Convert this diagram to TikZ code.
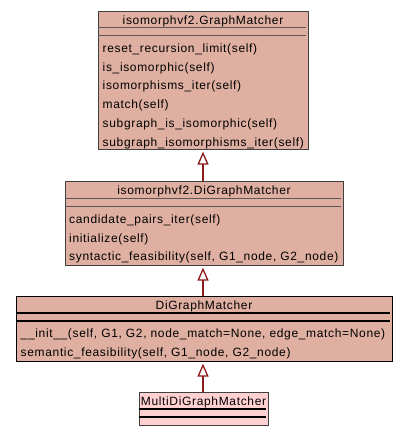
\documentclass[tikz,border=0pt]{standalone}
\usepackage{fontspec}
\setmainfont{Liberation Sans}[LetterSpace=5.5]
\usetikzlibrary{arrows.meta}

\definecolor{boxfill}{RGB}{223,176,161}
\definecolor{leaffill}{RGB}{255,208,208}
\definecolor{boxline}{RGB}{64,64,64}
\definecolor{arrowred}{RGB}{139,26,26}

\begin{document}
\begin{tikzpicture}[x=1pt,y=-1pt,font=\fontsize{12}{14}\selectfont,shorten >=2pt]
      \tikzstyle{klass}=[draw=boxline,fill=boxfill,line width=0.6pt,inner sep=0pt,anchor=north]
      \tikzstyle{cname}=[inner sep=0pt,text height=8.6pt,text depth=0pt]
      \tikzstyle{method}=[cname,anchor=west]
      \tikzstyle{sep}=[draw=black!65,line width=0.6pt]
      \tikzstyle{thicksep}=[draw=black,line width=1.1pt]
      \tikzstyle{inherit}=[draw=arrowred,line width=2pt,-{Triangle[open,width=11pt,length=13pt,line width=1.3pt,fill=white]}]

      \useasboundingbox (0,0) rectangle (408,437);

      % isomorphvf2.GraphMatcher
      \node[klass,minimum width=210pt,minimum height=138pt] (gm) at (203,11) {};
      \node[cname] (gm-name) at (203,20.5) {isomorphvf2.GraphMatcher};
      \draw[sep] ([yshift=-16pt]gm.north west) -- ([yshift=-16pt]gm.north east);
      \draw[sep] ([yshift=-24pt]gm.north west) -- ([yshift=-24pt]gm.north east);
      \foreach \m [count=\i from 0] in {reset\_recursion\_limit(self),
          is\_isomorphic(self), isomorphisms\_iter(self), match(self),
          subgraph\_is\_isomorphic(self), subgraph\_isomorphisms\_iter(self)}
        \node[method] (gm-m\i) at (102.5,48+18.8*\i) {\m};

      % isomorphvf2.DiGraphMatcher
      \node[klass,minimum width=278pt,minimum height=84pt] (dgm) at (204,181) {};
      \node[cname] (dgm-name) at (204,190.5) {isomorphvf2.DiGraphMatcher};
      \draw[sep] ([yshift=-17pt]dgm.north west) -- ([yshift=-17pt]dgm.north east);
      \draw[sep] ([yshift=-25pt]dgm.north west) -- ([yshift=-25pt]dgm.north east);
      \foreach \m [count=\i from 0] in {candidate\_pairs\_iter(self), initialize(self),
          {syntactic\_feasibility(self, G1\_node, G2\_node)}}
        \node[method] (dgm-m\i) at (69,219+18.7*\i) {\m};

      % DiGraphMatcher
      \node[klass,draw=black,minimum width=376pt,minimum height=65pt] (dm) at (204,296) {};
      \node[cname] (dm-name) at (204,305) {DiGraphMatcher};
      \draw[thicksep] ([yshift=-17pt]dm.north west) -- ([yshift=-17pt]dm.north east);
      \draw[thicksep] ([yshift=-25pt]dm.north west) -- ([yshift=-25pt]dm.north east);
      \foreach \m [count=\i from 0] in {{\_\_init\_\_(self, G1, G2, node\_match=None, edge\_match=None)},
          {semantic\_feasibility(self, G1\_node, G2\_node)}}
        \node[method] (dm-m\i) at (20.5,333+18.8*\i) {\m};

      % MultiDiGraphMatcher
      \node[klass,fill=leaffill,minimum width=129pt,minimum height=33pt] (mdm) at (203.5,392) {};
      \node[cname] (mdm-name) at (203.5,401.5) {MultiDiGraphMatcher};
      \draw[thicksep] ([yshift=-17pt]mdm.north west) -- ([yshift=-17pt]mdm.north east);
      \draw[thicksep] ([yshift=-25pt]mdm.north west) -- ([yshift=-25pt]mdm.north east);

      \draw[inherit] (dgm.north -| gm.south) -- (gm.south);
      \draw[inherit] (dm.north -| gm.south) -- (dgm.south -| gm.south);
      \draw[inherit] (mdm.north -| gm.south) -- (dm.south -| gm.south);
    \end{tikzpicture}
\end{document}
